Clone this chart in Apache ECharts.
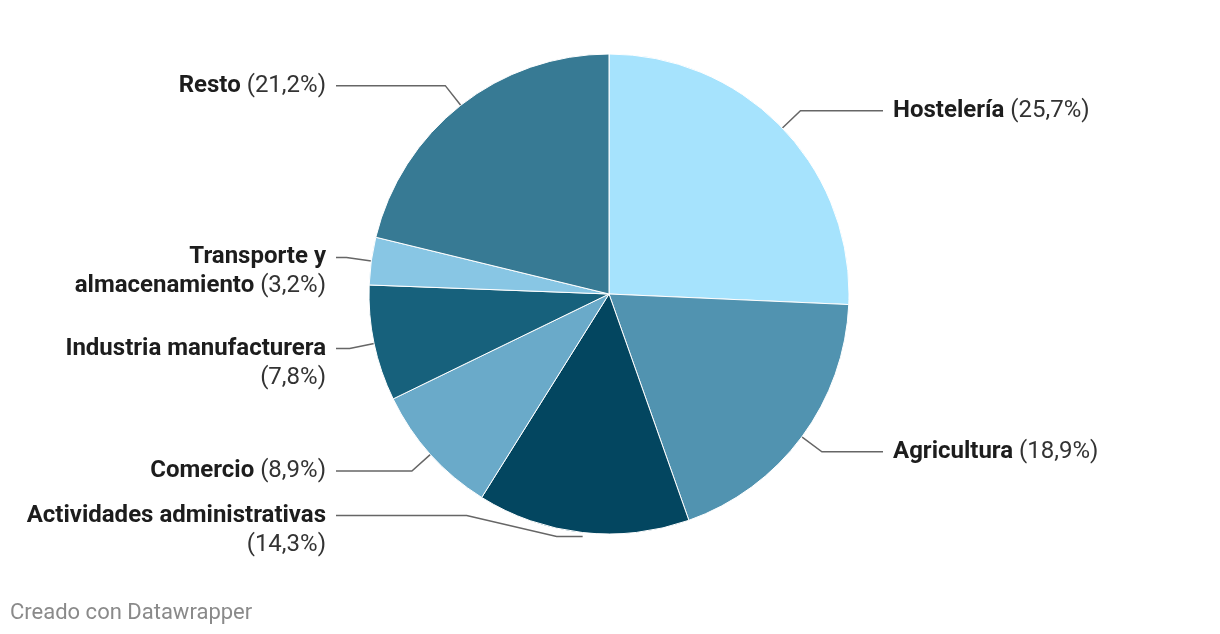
<!DOCTYPE html>
<html>
<head>
<meta charset="utf-8">
<script src="https://cdn.jsdelivr.net/npm/echarts@6/dist/echarts.min.js"></script>
<style>
html,body{margin:0;padding:0;background:#fff;}
#chart{width:1220px;height:634px;}
</style>
</head>
<body>
<div id="chart"></div>
<script>
// Data
const categories = ['Hostelería', 'Agricultura', 'Actividades administrativas', 'Comercio', 'Industria manufacturera', 'Transporte y almacenamiento', 'Resto'];
const labelLines = [['Hostelería'], ['Agricultura'], ['Actividades administrativas', ''], ['Comercio'], ['Industria manufacturera', ''], ['Transporte y', 'almacenamiento'], ['Resto']];
const values = [25.7, 18.9, 14.3, 8.9, 7.8, 3.2, 21.2];
const colors = ['#a6e3fd', '#5193b0', '#034660', '#6aaac9', '#17617c', '#88c6e4', '#377a94'];
const footer = 'Creado con Datawrapper';

// Styling / layout
const CX = 609, CY = 294, R = 240, LEN = 25;
const LEFT_END = 336, RIGHT_END = 883;
const FS = 24, LH = 29;

function fmt(v) { return '(' + v.toFixed(1).replace('.', ',') + '%)'; }

const total = values.reduce(function (a, b) { return a + b; }, 0);
let cum = 0;
const data = categories.map(function (c, i) {
  const mid = (cum + values[i] / 2) / total;
  cum += values[i];
  const th = mid * Math.PI * 2;
  const x1 = CX + (R + LEN) * Math.sin(th);
  const isLeft = x1 < CX;
  const len2 = isLeft ? (x1 - LEFT_END) : (RIGHT_END - x1);

  const lines = labelLines[i];
  let text;
  if (lines.length === 1) {
    text = '{b|' + lines[0] + '} {n|' + fmt(values[i]) + '}';
  } else if (lines[1] === '') {
    text = '{b|' + lines[0] + '}\n{n|' + fmt(values[i]) + '}';
  } else {
    text = '{b|' + lines[0] + '}\n{b|' + lines[1] + '} {n|' + fmt(values[i]) + '}';
  }
  const item = {
    name: c,
    value: values[i],
    itemStyle: { color: colors[i] },
    label: { formatter: text },
    labelLine: { length2: Math.max(2, len2) }
  };
  if (lines.length > 1) item.label.padding = [LH, 0, 0, 0];
  return item;
});

const chart = echarts.init(document.getElementById('chart'), null, { renderer: 'canvas' });
chart.setOption({
  backgroundColor: '#ffffff',
  animation: false,
  graphic: [{
    type: 'text',
    left: 10,
    top: 602,
    style: { text: footer, fontFamily: 'Roboto', fontSize: 22, fill: '#8a8a8a' }
  }],
  series: [{
    type: 'pie',
    center: [CX, CY],
    radius: R,
    startAngle: 90,
    clockwise: true,
    data: data,
    itemStyle: { borderColor: '#ffffff', borderWidth: 1 },
    label: {
      show: true,
      position: 'outside',
      alignTo: 'none',
      edgeDistance: 0,
      distanceToLabelLine: 10,
      fontFamily: 'Roboto',
      fontSize: FS,
      lineHeight: LH,
      rich: {
        b: { fontFamily: 'Roboto', fontSize: FS, fontWeight: 'bold', color: '#1d1d1d', lineHeight: LH },
        n: { fontFamily: 'Roboto', fontSize: FS, color: '#333333', lineHeight: LH }
      }
    },
    labelLine: {
      show: true,
      length: LEN,
      length2: 10,
      lineStyle: { color: '#666666', width: 1.5 }
    },
    labelLayout: function (p) {
      if (p.dataIndex !== 2 || !p.labelLinePoints) return {};
      const pts = p.labelLinePoints;
      const p0 = pts[0];
      const endX = pts[pts.length - 1][0];
      const y1 = p0[1] + 4;
      const yl = p0[1] - 17;
      return {
        y: yl,
        labelLinePoints: [[p0[0], y1], [p0[0] - 26, y1], [p0[0] - 116, yl], [endX, yl]]
      };
    }
  }]
});
</script>
</body>
</html>
